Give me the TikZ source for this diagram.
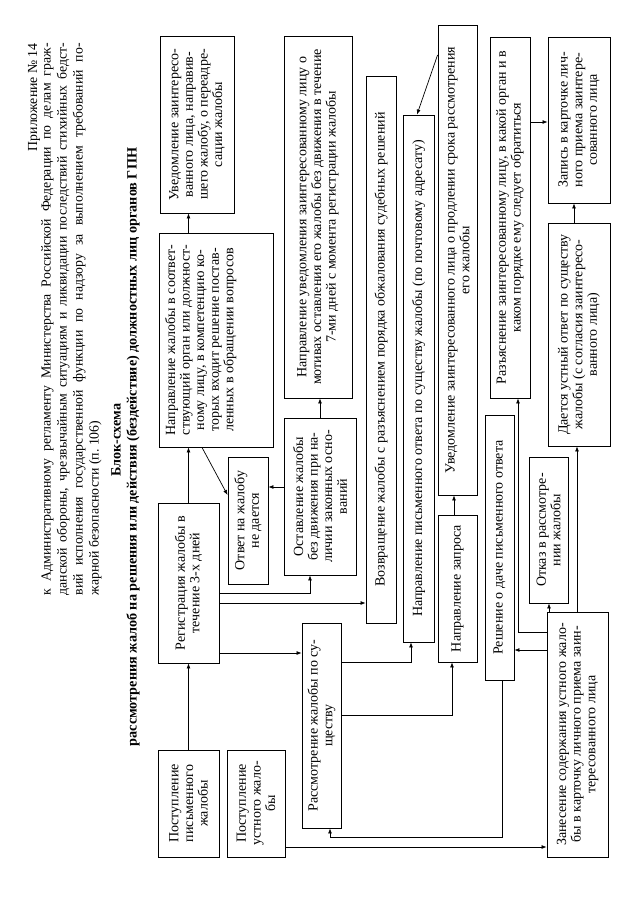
\documentclass[tikz,border=0pt]{standalone}
\usepackage{fontspec}
\setmainfont{Liberation Serif}
\usetikzlibrary{arrows.meta}
\newcommand{\boxfont}{\fontsize{14}{14.6}\selectfont}
\newcommand{\headfont}{\fontsize{13.8}{16}\selectfont}

\begin{document}
\begin{tikzpicture}[x=1pt,y=-1pt,
  box/.style={draw,line width=0.9pt,rotate=90,align=center,inner sep=1pt,font=\boxfont},
  arr/.style={-{Latex[length=5pt,width=4pt]},line width=0.7pt},
  head/.style={rotate=90,inner sep=0pt,font=\headfont}]
\useasboundingbox (0,0) rectangle (640,905);
% header
\node[head,anchor=east] (app) at (34,43) {Приложение № 14};
\node[head,anchor=north east,align=left] (hdr) at (41,43)
  {\makebox[552pt][s]{к Административному регламенту Министерства Российской Федерации по делам граж-}\\
   \makebox[552pt][s]{данской обороны, чрезвычайным ситуациям и ликвидации последствий стихийных бедст-}\\
   \makebox[552pt][s]{вий исполнения государственной функции по надзору за выполнением требований по-}\\
   жарной безопасности (п.~106)};
\node[head,font=\fontsize{14.2}{16}\selectfont\bfseries] (ttl1) at (116,440) {Блок-схема};
\node[head,font=\fontsize{14.2}{16}\selectfont\bfseries] (ttl2) at (133,447)
  {рассмотрения жалоб на решения или действия (бездействие) должностных лиц органов ГПН};
% column of incoming complaints
\node[box,minimum width=177pt,minimum height=74pt] (A1) at (197,124.5)
  {Уведомление заинтересо-\\ванного лица, направив-\\шего жалобу, о переадре-\\сации жалобы};
\node[box,minimum width=214pt,minimum height=114pt,inner sep=0pt] (A2) at (216,340)
  {\parbox[c][110pt][t]{210pt}{\centering\vspace{4pt}Направление жалобы в соответ-\\ствующий орган или должност-\\ному лицу, в компетенцию ко-\\торых входит решение постав-\\ленных в обращении вопросов}};
\node[box,minimum width=160pt,minimum height=61pt] (A3) at (188.5,583)
  {Регистрация жалобы в\\течение 3-х дней};
\node[box,minimum width=107pt,minimum height=61pt] (A4) at (188.5,803.5)
  {Поступление\\письменного\\жалобы};
\node[box,minimum width=107pt,minimum height=58pt] (A5) at (256,803.5)
  {Поступление\\устного жало-\\бы};
\node[box,minimum width=127pt,minimum height=40pt] (B1) at (248,520.5)
  {Ответ на жалобу\\не дается};
\node[box,minimum width=157pt,minimum height=72pt] (B2) at (320,496.5)
  {Оставление жалобы\\без движения при на-\\личии законных осно-\\ваний};
\node[box,minimum width=362pt,minimum height=68pt] (C1) at (318,217)
  {Направление уведомления заинтересованному лицу о\\мотивах оставления его жалобы без движения в течение\\7-ми дней с момента регистрации жалобы};
\node[box,minimum width=547pt,minimum height=30pt] (D) at (381,349.5)
  {Возвращение жалобы с разъяснением порядка обжалования судебных решений};
\node[box,minimum width=205pt,minimum height=39pt] (R) at (321.5,725.5)
  {Рассмотрение жалобы по су-\\ществу};
\node[box,minimum width=527pt,minimum height=31pt] (E) at (418.5,378.5)
  {Направление письменного ответа по существу жалобы (по почтовому адресату)};
\node[box,minimum width=470pt,minimum height=39pt] (F) at (457.5,260)
  {Уведомление заинтересованного лица о продлении срока рассмотрения\\его жалобы};
\node[box,minimum width=147pt,minimum height=39pt] (G) at (457.5,588.5)
  {Направление запроса};
\node[box,minimum width=265pt,minimum height=29pt] (H) at (499.5,547.5)
  {Решение о даче письменного ответа};
\node[box,minimum width=361pt,minimum height=40pt] (I) at (510,217.5)
  {Разъяснение заинтересованному лицу, в какой орган и в\\каком порядке ему следует обратиться};
\node[box,minimum width=146pt,minimum height=39pt] (J) at (548.5,530)
  {Отказ в рассмотре-\\нии жалобы};
\node[box,minimum width=223pt,minimum height=62pt] (K) at (579,334.5)
  {Дается устный ответ по существу\\жалобы (с согласия заинтересо-\\ванного лица)};
\node[box,minimum width=166pt,minimum height=62pt] (L) at (579,120)
  {Запись в карточке лич-\\ного приема заинтере-\\сованного лица};
\node[box,minimum width=245pt,minimum height=61pt] (M) at (577.5,734.5)
  {Занесение содержания устного жало-\\бы в карточку личного приема заин-\\тересованного лица};
% connectors
\draw[arr] (A4.east) -- (A4.east |- A3.west);
\draw[arr] (A3.east) -- (A3.east |- A2.west);
\draw[arr] (A2.east -| A3.east) -- (A1.west -| A3.east);
\draw[arr] ([xshift=-14pt]A2.west) -- ([yshift=25.5pt]B1.north);
\draw[arr] ([yshift=9.5pt]B2.north) -- ([yshift=9.5pt]B2.north -| B1.south);
\draw[arr] (B2.east) -- (B2.east |- C1.west);
\draw[arr] ([yshift=-10pt]A3.south) -| ([xshift=-10pt]B2.west);
\draw[arr] ([yshift=-20pt]A3.south) -- ([yshift=-20pt]A3.south -| D.north);
\draw[arr] ([yshift=-70pt]A3.south) -- ([yshift=-70pt]A3.south -| R.north);
\draw[arr] ([yshift=63.5pt]R.south) -| ([xshift=-7.5pt]E.west);
\draw[arr] ([yshift=10.5pt]R.south) -| ([xshift=-5.5pt]G.west);
\draw[arr] ([xshift=-3.5pt]G.east) -- ([xshift=-3.5pt]F.west);
\draw[arr] ([yshift=205pt]F.north) -- ([xshift=-1.5pt]E.east);
\draw[arr] ([xshift=3pt]H.west) -- ([xshift=3pt]H.west |- 0,837) -| ([xshift=8.5pt]R.west);
\draw[arr] ([yshift=-43.5pt]A5.south) -- ([yshift=-43.5pt]A5.south -| M.north);
\draw[arr] ([yshift=84.5pt]M.north) -- ([yshift=84.5pt]M.north -| H.south);
\draw[arr] ([yshift=102.5pt]M.north) -| ([xshift=8pt]I.west);
\draw[arr] ([xshift=-28.5pt]M.east) -- ([xshift=-28.5pt]M.east |- J.west);
\draw[arr] ([xshift=-0.5pt]M.east) -- ([xshift=-0.5pt]M.east |- K.west);
\draw[arr] ([xshift=-5pt]K.east) -- ([xshift=-5pt]K.east |- L.west);
\draw[arr] ([yshift=95.5pt]I.south) -- ([yshift=95.5pt]I.south -| L.north);
\end{tikzpicture}
\end{document}
